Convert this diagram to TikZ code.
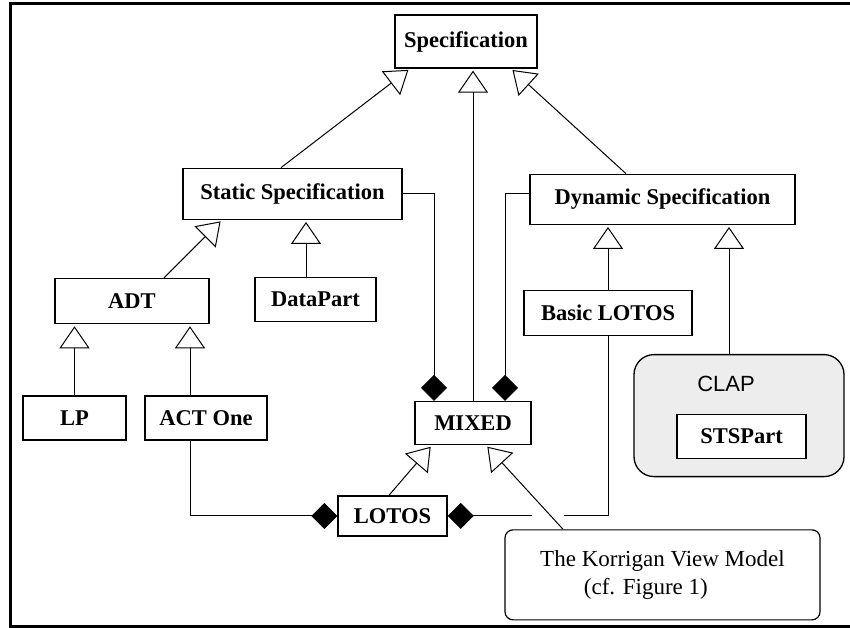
\documentclass[tikz,border=0pt]{standalone}
\usepackage{fontspec}
\setmainfont{Liberation Serif}
\setsansfont{Liberation Sans}
\usepackage{xcolor}
\usetikzlibrary{shapes,arrows.meta,positioning}

\begin{document}
\begin{tikzpicture}[x=1pt, y=-1pt]
    \tikzstyle{class} = [rectangle, draw, line width=1.3pt, fill=white, inner sep=2pt, font=\fontsize{22.5}{27}\selectfont\bfseries]
    \tikzstyle{package} = [rectangle, draw, line width=1.3pt, rounded corners=20pt, fill=black!7]
    \tikzstyle{note} = [rectangle, draw, line width=1.2pt, rounded corners=8pt, align=left, font=\fontsize{23}{28}\selectfont]
    \tikzstyle{inherit} = [line width=1pt, -{Triangle[open, length=22pt, width=30pt]}, shorten >=2pt]
    \tikzstyle{compose} = [line width=1pt, -{Diamond[length=26pt, width=26pt]}]

    \useasboundingbox (0,0) rectangle (850,628);
    % frame
    \draw [line width=3pt] (850,4) -- (10.7,4) -- (10.7,626.5) -- (850,626.5);

    \node [class, minimum width=142pt, minimum height=53pt] (spec) at (466,41.5) {Specification};
    \node [class, minimum width=219pt, minimum height=51pt, below=99pt of spec, xshift=-173.5pt] (static) {Static Specification};
    \node [class, minimum width=265pt, minimum height=50pt, below=105pt of spec, xshift=196.5pt] (dyn) {Dynamic Specification};
    \node [class, minimum width=154pt, minimum height=45pt, below=58pt of static, xshift=-160.5pt] (adt) {ADT};
    \node [class, minimum width=121pt, minimum height=44pt, below=57pt of static, xshift=23pt] (data) {DataPart};
    \node [class, minimum width=168pt, minimum height=45pt, below=65pt of dyn, xshift=-54.5pt] (basic) {Basic LOTOS};
    \node [class, minimum width=103pt, minimum height=44pt, below=71pt of adt, xshift=-57.5pt] (lp) {LP};
    \node [class, minimum width=122pt, minimum height=44pt, below=71pt of adt, xshift=74pt] (act) {ACT One};
    \node [class, minimum width=116pt, minimum height=43pt, below=181pt of static, xshift=180.5pt] (mixed) {MIXED};
    \node [package, minimum width=210pt, minimum height=122pt, below=129pt of dyn, xshift=76.5pt] (clap) {};
    \node [inner sep=0pt, font=\sffamily\fontsize{22}{26}\selectfont, below=22pt of clap.north, xshift=-13pt] (claplbl) {CLAP};
    \node [class, minimum width=129pt, minimum height=44pt, below=60pt of clap.north, xshift=2.5pt] (sts) {STSPart};
    \node [class, minimum width=109pt, minimum height=40pt, below=50pt of mixed, xshift=-80.5pt] (lotos) {LOTOS};
    \node [note, minimum width=315pt, minimum height=90pt, below=84pt of mixed, xshift=189.5pt] (korr) {The Korrigan View Model\\\hspace*{1.9em}(cf. Figure 1)};

    \coordinate (gapL) at ([xshift=84pt]lotos.east);
    \coordinate (gapR) at ([xshift=116pt]lotos.east);

    % generalisation
    \draw [inherit] ([xshift=-11.5pt]static.north) -- ([xshift=-56pt]spec.south);
    \draw [inherit] ([xshift=-36.5pt]dyn.north) -- ([xshift=45pt]spec.south);
    \draw [inherit] (mixed.north) -- (mixed.north |- spec.south);
    \draw [inherit] ([xshift=32pt]adt.north) -- ([xshift=-70.5pt]static.south);
    \draw [inherit] ([xshift=-9.5pt]data.north) -- ([xshift=-9.5pt]data.north |- static.south);
    \draw [inherit] (lp.north) -- (lp.north |- adt.south);
    \draw [inherit] ([xshift=-16pt]act.north) -- ([xshift=-16pt]act.north |- adt.south);
    \draw [inherit] (basic.north) -- (basic.north |- dyn.south);
    \draw [inherit] ([xshift=-10pt]clap.north) -- ([xshift=-10pt]clap.north |- dyn.south);
    \draw [inherit] ([xshift=-3.5pt]lotos.north) -- ([xshift=-41pt]mixed.south);
    \draw [inherit] ([xshift=-99.5pt]korr.north) -- ([xshift=13pt]mixed.south);

    % composition
    \draw [compose] (static.east) -| ([xshift=-39pt]mixed.north);
    \draw [compose] ([yshift=6pt]dyn.west) -| ([xshift=32pt]mixed.north);
    \draw [compose] ([xshift=-16pt]act.south) |- (lotos.west);
    \draw [compose] (gapL) -- (lotos.east);
    \draw [line width=1pt] (basic.south) |- (gapR);
\end{tikzpicture}
\end{document}
